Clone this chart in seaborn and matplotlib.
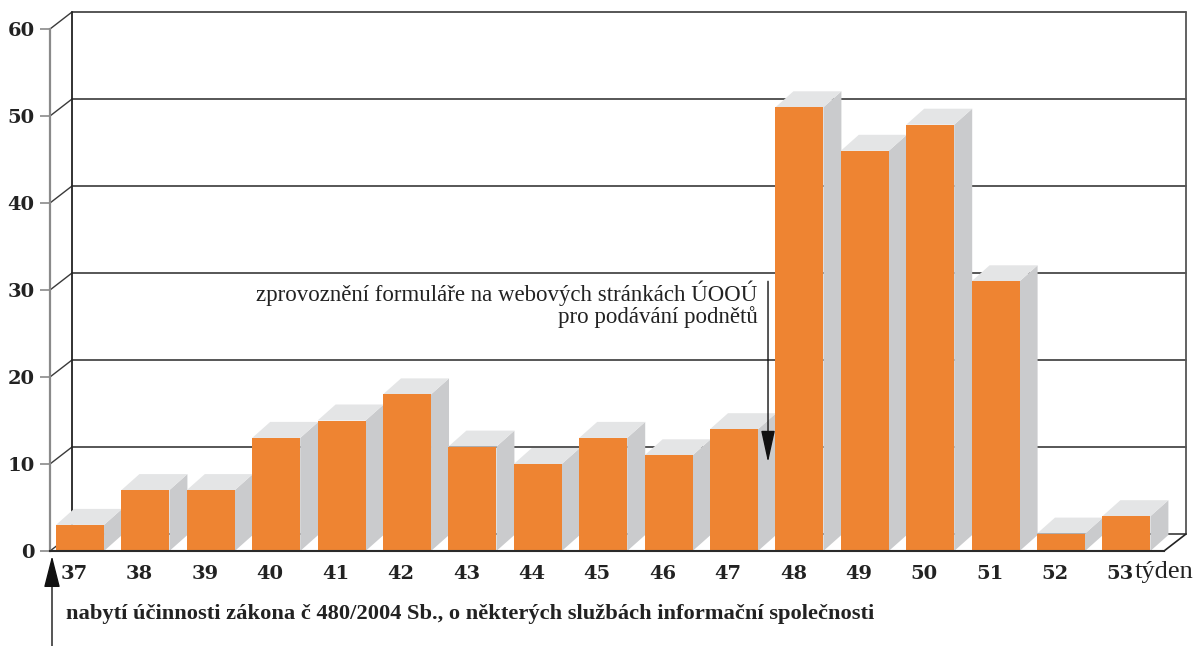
import matplotlib
matplotlib.use("Agg")
import matplotlib.pyplot as plt
import matplotlib.transforms as mtransforms
import seaborn as sns
import pandas as pd
from matplotlib.patches import Polygon

weeks = ["37", "38", "39", "40", "41", "42", "43", "44", "45", "46", "47",
         "48", "49", "50", "51", "52", "53"]
values = [3, 7, 7, 13, 15, 18, 12, 10, 13, 11, 14, 51, 46, 49, 31, 2, 4]
y_ticks = [0, 10, 20, 30, 40, 50, 60]
x_label = "týden"
note_top = "zprovoznění formuláře na webových stránkách ÚOOÚ\npro podávání podnětů"
note_bottom = "nabytí účinnosti zákona č 480/2004 Sb., o některých službách informační společnosti"

ORANGE = "#EE8432"
TOP = "#E4E5E6"
SIDE = "#CACBCD"

sns.set_theme(style="white")
plt.rcParams["font.family"] = ["Liberation Serif", "DejaVu Serif"]
TICKFONT = ["DejaVu Serif"]

W, H = 1204, 646
fig = plt.figure(figsize=(W / 100, H / 100), dpi=100)
ax = fig.add_axes([50 / W, (H - 551) / H, (1164 - 50) / W, (551 - 29) / H])

df = pd.DataFrame({"week": weeks, "value": values})
sns.barplot(data=df, x="week", y="value", color=ORANGE, saturation=1,
            width=0.734, ax=ax, linewidth=0)

xmin, xmax = -0.459, 16.575
ax.set_xlim(xmin, xmax)
ax.set_ylim(0, 60)

# wall depth and bar depth in data units
wdx, wdy = 22 / 65.4, 17 / 8.7
bdx, bdy = 18 / 65.4, 16 / 8.7

# back wall
for v in y_ticks:
    ax.plot([xmin + wdx, xmax + wdx], [v + wdy, v + wdy], color="#3a3a3a",
            lw=1.2, clip_on=False, zorder=1)
    if v > 0:
        ax.plot([xmin, xmin + wdx], [v, v + wdy], color="#3a3a3a", lw=1.0,
                clip_on=False, zorder=1)
ax.plot([xmin, xmin + wdx], [0, wdy], color="#3a3a3a", lw=1.0, clip_on=False, zorder=1)
ax.plot([xmin + wdx, xmin + wdx], [wdy, 60 + wdy], color="#222222", lw=1.3,
        clip_on=False, zorder=1)
ax.plot([xmax + wdx, xmax + wdx], [wdy, 60 + wdy], color="#555555", lw=1.3,
        clip_on=False, zorder=1)
ax.plot([xmax, xmax + wdx], [0, wdy], color="#222222", lw=1.2, clip_on=False, zorder=1)

# 3D bars
for i, p in enumerate(ax.patches):
    x0, w, h = p.get_x(), p.get_width(), p.get_height()
    z = 3 + i * 0.01
    side = Polygon([(x0 + w, 0), (x0 + w + bdx, bdy), (x0 + w + bdx, h + bdy), (x0 + w, h)],
                   closed=True, facecolor=SIDE, edgecolor="none", zorder=z, clip_on=False)
    top = Polygon([(x0, h), (x0 + bdx, h + bdy), (x0 + w + bdx, h + bdy), (x0 + w, h)],
                  closed=True, facecolor=TOP, edgecolor="none", zorder=z, clip_on=False)
    ax.add_patch(side)
    ax.add_patch(top)
    p.set_zorder(z + 0.005)
    p.set_clip_on(False)

# spines
for s in ["top", "right"]:
    ax.spines[s].set_visible(False)
ax.spines["left"].set_color("#8a8a8a")
ax.spines["left"].set_linewidth(1.6)
ax.spines["bottom"].set_color("#2a2a2a")
ax.spines["bottom"].set_linewidth(1.5)
ax.spines["bottom"].set_zorder(10)

ax.set_yticks(y_ticks)
ax.set_yticklabels([str(t) for t in y_ticks], fontsize=14, fontweight="bold",
                   color="#222222", family=TICKFONT)
ax.tick_params(axis="y", length=7, width=1.2, color="#8a8a8a", pad=4, left=True)
ax.tick_params(axis="x", length=0, pad=10, labelcolor="#222222")
shift = mtransforms.ScaledTranslation(-6 / 100, 0, fig.dpi_scale_trans)
for lab in ax.get_xticklabels():
    lab.set_fontweight("bold")
    lab.set_fontsize(14)
    lab.set_family(TICKFONT)
    lab.set_transform(lab.get_transform() + shift)
ax.set_xlabel("")
ax.set_ylabel("")
ax.grid(False)

fig.text(1135 / W, (H - 572) / H, x_label, fontsize=19, color="#222222",
         ha="left", va="center")

# annotation arrow for week 48
ax.annotate("", xy=(10.52, 10.2), xytext=(10.52, 31.0),
            arrowprops=dict(arrowstyle="-|>,head_length=1.1,head_width=0.24",
                            color="#111111", lw=1.0, mutation_scale=18,
                            shrinkA=0, shrinkB=0), zorder=20)
ax.text(10.36, 28.4, note_top, ha="right", va="center", multialignment="right",
        fontsize=16.5, color="#222222", linespacing=1.0, zorder=20)

# bottom arrow and note
ax.annotate("", xy=(52 / W, (H - 556) / H), xytext=(52 / W, 0.0),
            xycoords="figure fraction", textcoords="figure fraction",
            arrowprops=dict(arrowstyle="-|>,head_length=1.1,head_width=0.28",
                            color="#111111", lw=1.0, mutation_scale=18,
                            shrinkA=0, shrinkB=0), annotation_clip=False)
fig.text(66 / W, (H - 614) / H, note_bottom, fontsize=16.2, fontweight="bold",
         color="#222222", ha="left", va="center")

fig.savefig("out.png", dpi=100)
